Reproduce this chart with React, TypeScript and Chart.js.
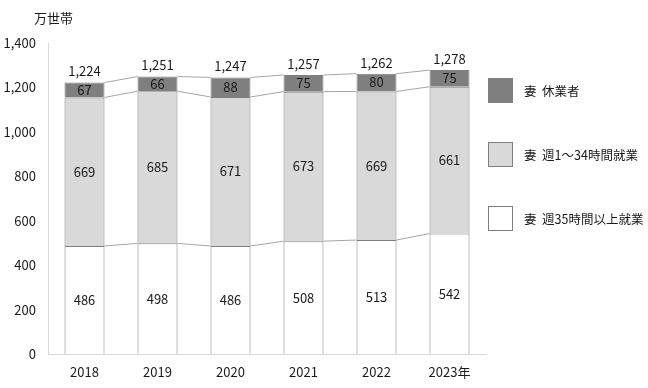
import React, { useEffect, useRef } from 'react';
import { Chart, registerables } from 'chart.js';
Chart.register(...registerables);

const years = ['2018', '2019', '2020', '2021', '2022', '2023年'];
const fullTime = [486, 498, 486, 508, 513, 542];
const partTime = [669, 685, 671, 673, 669, 661];
const onLeave = [67, 66, 88, 75, 80, 75];
const totals = [1224, 1251, 1247, 1257, 1262, 1278];
const seriesNames = ['妻  週35時間以上就業', '妻  週1～34時間就業', '妻  休業者'];
const seriesColors = ['#ffffff', '#d9d9d9', '#7f7f7f'];
const unitLabel = '万世帯';

const FONT = '"Noto Sans CJK JP", "Noto Sans", sans-serif';
const TEXT = '#1a1a1a';

const fmt = (v: number) => v.toLocaleString('en-US');

const overlay = {
  id: 'overlay',
  beforeDatasetsDraw(chart: any) {
    const ctx = chart.ctx;
    ctx.save();
    ctx.strokeStyle = '#a6a6a6';
    ctx.lineWidth = 1;
    chart.data.datasets.forEach((_: any, di: number) => {
      const meta = chart.getDatasetMeta(di);
      for (let i = 0; i < meta.data.length - 1; i++) {
        const a = meta.data[i] as any;
        const b = meta.data[i + 1] as any;
        ctx.beginPath();
        ctx.moveTo(a.x + a.width / 2, a.y);
        ctx.lineTo(b.x - b.width / 2, b.y);
        ctx.stroke();
      }
    });
    ctx.restore();
  },
  afterDatasetsDraw(chart: any) {
    const ctx = chart.ctx;
    ctx.save();
    ctx.font = `13px ${FONT}`;
    ctx.fillStyle = TEXT;
    ctx.textAlign = 'center';
    ctx.textBaseline = 'middle';
    chart.data.datasets.forEach((ds: any, di: number) => {
      const meta = chart.getDatasetMeta(di);
      meta.data.forEach((el: any, i: number) => {
        ctx.fillText(String(ds.data[i]), el.x, (el.y + el.base) / 2);
      });
    });
    const topMeta = chart.getDatasetMeta(chart.data.datasets.length - 1);
    topMeta.data.forEach((el: any, i: number) => {
      ctx.fillText(fmt(totals[i]), el.x, el.y - 11);
    });
    // unit label
    ctx.textAlign = 'left';
    ctx.fillText(unitLabel, 34, 18);
    // legend
    const lx = 488;
    const order = [2, 1, 0];
    order.forEach((si, k) => {
      const y = 78 + k * 64;
      ctx.fillStyle = seriesColors[si];
      ctx.fillRect(lx, y, 25, 25);
      ctx.strokeStyle = '#7f7f7f';
      ctx.lineWidth = 1;
      ctx.strokeRect(lx + 0.5, y + 0.5, 24, 24);
      ctx.fillStyle = TEXT;
      ctx.font = `12.5px ${FONT}`;
      ctx.fillText(seriesNames[si], 524, y + 13);
    });
    ctx.restore();
  },
};

export default function App() {
  const ref = useRef<HTMLCanvasElement>(null);
  useEffect(() => {
    document.body.style.margin = '0';
    const chart = new Chart(ref.current!, {
      type: 'bar',
      data: {
        labels: years,
        datasets: [fullTime, partTime, onLeave].map((d, i) => ({
          label: seriesNames[i],
          data: d,
          backgroundColor: seriesColors[i],
          borderColor: '#7f7f7f',
          borderWidth: 1,
          barPercentage: 0.548,
          categoryPercentage: 1,
        })),
      },
      options: {
        responsive: false,
        animation: false,
        layout: { padding: { left: 0, right: 162, top: 43, bottom: 0 } },
        plugins: { legend: { display: false }, tooltip: { enabled: false } },
        scales: {
          x: {
            stacked: true,
            grid: { display: false },
            border: { display: true, color: '#d9d9d9' },
            ticks: { color: TEXT, font: { family: FONT, size: 13 }, padding: 2 },
            afterFit: (s: any) => { s.height = 34; },
          },
          y: {
            stacked: true,
            min: 0,
            max: 1400,
            grid: { display: false },
            border: { display: true, color: '#d9d9d9' },
            ticks: {
              stepSize: 200,
              color: TEXT,
              font: { family: FONT, size: 13 },
              padding: 4,
              callback: (v: any) => fmt(Number(v)),
            },
            afterFit: (s: any) => { s.width = 48; },
          },
        },
      },
      plugins: [overlay],
    });
    return () => chart.destroy();
  }, []);
  return <canvas ref={ref} width={648} height={388} style={{ display: 'block' }} />;
}
